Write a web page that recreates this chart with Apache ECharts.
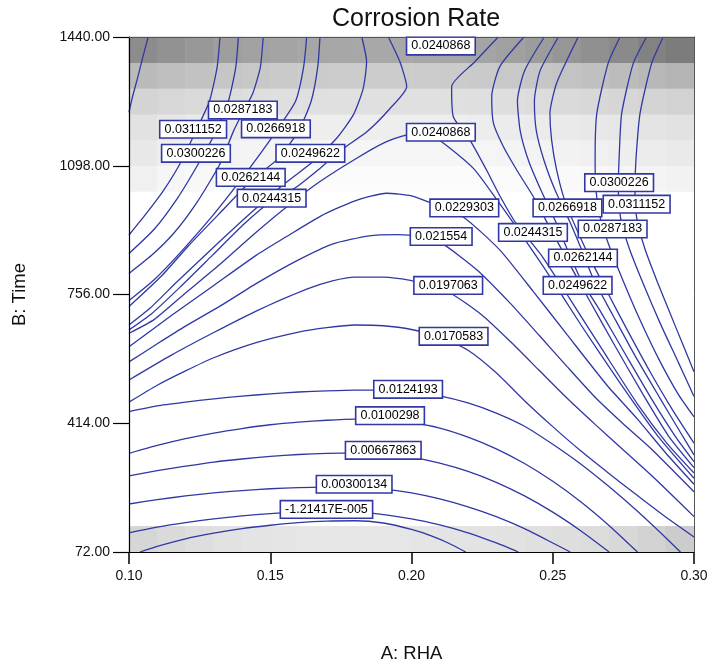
<!DOCTYPE html>
<html><head><meta charset="utf-8">
<script src="https://cdn.jsdelivr.net/npm/echarts@6/dist/echarts.min.js"></script>
<style>html,body{margin:0;padding:0;background:#fff}#c{width:714px;height:666px}</style>
</head><body><div id="c"></div>
<script>
// ---------- axes ----------
const rhaTicks = [0.10, 0.15, 0.20, 0.25, 0.30];
const timeTicks = [72, 414, 756, 1098, 1440];

// ---------- background shading (20 x 20 design grid, gray level 0-255) ----------
const cellIndex = [0,1,2,3,4,5,6,7,8,9,10,11,12,13,14,15,16,17,18,19];
const shadeRow0  = [214,218,222,226,228,229,230,230,230,230,229,228,227,226,224,222,220,216,210,204];
const shadeRow14 = [240,246,248,250,250,251,251,251,251,251,251,251,251,250,250,249,248,246,244,242];
const shadeRow15 = [232,238,241,243,244,245,245,245,245,245,245,245,245,244,243,242,240,238,236,234];
const shadeRow16 = [226,230,233,235,236,237,238,238,238,238,238,238,237,236,235,234,232,230,228,226];
const shadeRow17 = [212,215,218,220,222,223,224,224,224,224,224,224,223,222,220,218,216,214,212,210];
const shadeRow18 = [186,190,194,198,200,202,203,204,204,204,204,203,202,200,198,195,192,188,184,180];
const shadeRow19 = [140,146,152,158,162,164,166,167,168,168,167,166,164,160,156,150,144,138,130,124];

// ---------- contour lines [RHA, Time] ----------
const lineLow = [[0.1039,72],[0.110,87],[0.120,107],[0.130,122],[0.140,134],[0.150,143],[0.160,150],[0.170,154],[0.180,155],[0.190,149],[0.200,132],[0.207,115],[0.213,96],[0.2192,72]];
const lineM0000 = [[0.10,123],[0.11,138],[0.12,150],[0.13,160],[0.14,168],[0.15,174],[0.16,178],[0.172,180],[0.185,176],[0.20,160],[0.21,144],[0.22,123],[0.23,96],[0.2378,72]];
const line0030 = [[0.10,199.5],[0.11,211],[0.12,221],[0.13,229],[0.14,235],[0.15,240],[0.16,243],[0.175,245],[0.19,239],[0.20,229],[0.21,213],[0.22,192],[0.23,166],[0.24,134],[0.25,96],[0.2562,72]];
const line0067 = [[0.10,274],[0.11,288],[0.12,300],[0.13,311],[0.14,319],[0.15,326],[0.16,331],[0.17,334],[0.18,335],[0.19,333],[0.20,324],[0.21,308],[0.22,286],[0.23,257],[0.24,221],[0.25,178],[0.26,128],[0.27,72]];
const line0100 = [[0.10,334],[0.11,355],[0.12,373],[0.13,388],[0.14,400],[0.15,410],[0.16,417],[0.17,422],[0.18,425],[0.19,424],[0.20,416],[0.21,401],[0.22,377],[0.23,346],[0.24,307],[0.25,260],[0.26,205],[0.27,142],[0.28,72]];
const line0124 = [[0.10,445],[0.11,460],[0.12,470],[0.13,479],[0.14,486],[0.15,492],[0.16,497],[0.17,500],[0.18,502],[0.19,502],[0.20,498],[0.21,487],[0.22,468],[0.23,441],[0.24,406],[0.25,358],[0.26,305],[0.27,245],[0.28,180],[0.29,110],[0.2952,72]];
const line0171 = [[0.10,470],[0.11,515],[0.12,553],[0.13,588],[0.145,628],[0.16,656],[0.17,668],[0.18,675],[0.19,673],[0.20,663],[0.21,643],[0.22,608],[0.23,548],[0.24,474],[0.25,405],[0.26,340],[0.27,280],[0.28,222],[0.29,165],[0.30,112]];
const line0197 = [[0.10,529],[0.115,595],[0.13,655],[0.145,712],[0.1629,770],[0.172,792],[0.18,802],[0.19,802],[0.20,793],[0.2136,760],[0.225,701],[0.235,631],[0.245,556],[0.255,481],[0.265,411],[0.275,343],[0.285,275],[0.30,166]];
const line0216 = [[0.10,577],[0.11,625],[0.12,672],[0.1322,725],[0.145,785],[0.16,848],[0.172,890],[0.185,912],[0.195,915],[0.203,910],[0.2105,893],[0.2232,821],[0.2349,733],[0.2455,645],[0.255,565],[0.265,483],[0.275,412],[0.285,345],[0.30,232]];
const line0229 = [[0.10,617],[0.115,700],[0.13,780],[0.145,860],[0.1558,910],[0.168,965],[0.18,1005],[0.1912,1025],[0.20,1018],[0.2066,1000],[0.2183,962],[0.2313,874],[0.243,765],[0.255,650],[0.2692,515],[0.28,425],[0.29,335],[0.30,252]];
const line0241Low = [[0.10,653],[0.109,690],[0.120,760],[0.132,835],[0.144,915],[0.156,990],[0.1676,1056],[0.1806,1118],[0.1906,1160],[0.1983,1180],[0.2050,1188],[0.2101,1165],[0.2219,1091],[0.2300,1010],[0.238,925],[0.248,815],[0.260,675],[0.273,530],[0.287,382],[0.30,268]];
const line0241Top = [[0.2307,1440],[0.2225,1375],[0.2142,1308],[0.2148,1228],[0.2207,1166],[0.2266,1086],[0.2315,1015],[0.2370,945],[0.2460,860],[0.2560,745],[0.2675,610],[0.2800,465],[0.2905,360],[0.30,282]];
// left family
const leftTop = [[0.1068,1440],[0.1050,1390],[0.1030,1330],[0.1012,1280],[0.10,1240]];
const left0311 = [[0.1322,1440],[0.1312,1360],[0.1285,1270],[0.1240,1195],[0.1178,1100],[0.1120,1030],[0.1060,970],[0.10,914]];
const left0300 = [[0.1387,1440],[0.1378,1360],[0.1352,1270],[0.1305,1185],[0.1243,1100],[0.1170,1010],[0.1090,930],[0.10,865]];
const left0287 = [[0.1475,1440],[0.1465,1360],[0.1438,1290],[0.1403,1240],[0.1370,1190],[0.1320,1100],[0.1240,1000],[0.1160,920],[0.1080,860],[0.10,812]];
const left0267 = [[0.1629,1440],[0.1618,1360],[0.1590,1270],[0.1530,1200],[0.1465,1130],[0.1385,1050],[0.1290,960],[0.1180,866],[0.1090,796],[0.10,740]];
const left0262 = [[0.1676,1440],[0.1668,1360],[0.1645,1270],[0.1600,1190],[0.1525,1115],[0.1435,1060],[0.1325,975],[0.1210,885],[0.1115,805],[0.10,724]];
const left0250 = [[0.1824,1440],[0.1841,1374],[0.1829,1303],[0.1794,1233],[0.1735,1171],[0.1652,1109],[0.1550,1050],[0.1420,965],[0.1290,875],[0.1170,790],[0.1075,720],[0.10,675]];
const left0244 = [[0.1918,1440],[0.1959,1374],[0.1983,1308],[0.1924,1250],[0.1842,1188],[0.1759,1144],[0.1676,1091],[0.1590,1040],[0.1505,1005],[0.1410,945],[0.1295,860],[0.1180,775],[0.1080,705],[0.10,662]];
// right family
const right0244 = [[0.2398,1440],[0.2313,1362],[0.2284,1282],[0.2290,1211],[0.2325,1149],[0.2373,1086],[0.2432,1015],[0.2485,940],[0.2550,850],[0.2630,740],[0.2720,620],[0.2820,490],[0.2910,380],[0.30,296]];
const right0250 = [[0.2470,1440],[0.2400,1350],[0.2375,1270],[0.2385,1190],[0.2415,1110],[0.2460,1030],[0.2510,950],[0.2555,870],[0.2600,795],[0.2670,710],[0.2755,600],[0.2855,472],[0.2935,378],[0.30,312]];
const right0262 = [[0.2520,1440],[0.2455,1350],[0.2435,1270],[0.2442,1190],[0.2470,1110],[0.2510,1030],[0.2560,950],[0.2605,870],[0.2645,795],[0.2710,705],[0.2790,595],[0.2880,480],[0.2950,392],[0.30,330]];
const right0267 = [[0.2590,1440],[0.2514,1318],[0.2490,1237],[0.2496,1166],[0.2514,1086],[0.2545,1000],[0.2590,920],[0.2640,840],[0.2695,760],[0.2765,660],[0.2845,550],[0.2925,448],[0.30,361]];
const right0287 = [[0.2738,1440],[0.2696,1370],[0.2656,1237],[0.2650,1120],[0.2652,1039],[0.2668,960],[0.2695,895],[0.2745,800],[0.2805,695],[0.2875,585],[0.2945,490],[0.30,431]];
const right0300 = [[0.2832,1440],[0.2785,1370],[0.2744,1237],[0.2735,1120],[0.2732,1039],[0.2740,960],[0.2770,880],[0.2820,785],[0.2880,680],[0.2945,575],[0.30,485]];
const right0311 = [[0.2891,1440],[0.2850,1370],[0.2809,1237],[0.2795,1120],[0.2791,1039],[0.2797,960],[0.2825,880],[0.2870,790],[0.2935,670],[0.30,551]];

// ---------- contour labels [RHA, Time, text] ----------
const contourLabels = [
  [0.2104,1416,'0.0240868'],[0.2104,1187,'0.0240868'],
  [0.1403,1246,'0.0287183'],[0.1227,1195,'0.0311152'],[0.1520,1196,'0.0266918'],
  [0.1237,1131,'0.0300226'],[0.1642,1131,'0.0249622'],[0.1431,1067,'0.0262144'],
  [0.1505,1012,'0.0244315'],
  [0.2187,986,'0.0229303'],[0.2105,910,'0.021554'],[0.2130,780,'0.0197063'],
  [0.2149,645,'0.0170583'],[0.1988,504,'0.0124193'],[0.1924,434,'0.0100298'],
  [0.1900,342,'0.00667863'],[0.1797,252,'0.00300134'],[0.1699,185,'-1.21417E-005'],
  [0.2735,1053,'0.0300226'],[0.2797,996,'0.0311152'],[0.2712,930,'0.0287183'],
  [0.2552,986,'0.0266918'],[0.2430,921,'0.0244315'],[0.2607,853,'0.0262144'],
  [0.2588,780,'0.0249622']
];

// ---------- build ----------
const shadeRows = [[0,shadeRow0],[14,shadeRow14],[15,shadeRow15],[16,shadeRow16],[17,shadeRow17],[18,shadeRow18],[19,shadeRow19]];
const heatData = [];
shadeRows.forEach(([r, row]) => row.forEach((g, c) => heatData.push([c, r, g])));

const allLines = [lineLow,lineM0000,line0030,line0067,line0100,line0124,line0171,line0197,line0216,line0229,line0241Low,line0241Top,
  leftTop,left0311,left0300,left0287,left0267,left0262,left0250,left0244,
  right0244,right0250,right0262,right0267,right0287,right0300,right0311];

const LINE = '#3038a4';
const FONT = 'Liberation Sans, Arial, Helvetica, sans-serif';

const series = [{
  type: 'heatmap', xAxisIndex: 1, yAxisIndex: 1, data: heatData, silent: true,
  itemStyle: { borderWidth: 0 }, emphasis: { disabled: true }, z: 1
}];
allLines.forEach(pts => series.push({
  type: 'line', xAxisIndex: 0, yAxisIndex: 0, data: pts, symbol: 'none', showSymbol: false,
  smooth: 0.2, silent: true, lineStyle: { color: LINE, width: 1.3, opacity: 1 }, z: 3
}));
series.push({
  type: 'scatter', xAxisIndex: 0, yAxisIndex: 0, symbolSize: 1, silent: true, z: 6,
  itemStyle: { color: 'rgba(255,255,255,0)', opacity: 1 },
  data: contourLabels.map(d => ({ value: [d[0], d[1]], name: d[2] })),
  label: {
    show: true, position: 'inside', formatter: p => p.name, opacity: 1,
    backgroundColor: '#ffffff', borderColor: LINE, borderWidth: 1.6,
    padding: [2, 4, 1, 4], fontSize: 12.5, fontFamily: FONT, color: '#000'
  },
  labelLayout: { hideOverlap: false }
});

const chart = echarts.init(document.getElementById('c'), null, { renderer: 'canvas' });
chart.setOption({
  animation: false,
  backgroundColor: '#fff',
  title: { text: 'Corrosion Rate', left: 411, top: 2, textAlign: 'center',
    textStyle: { fontSize: 25, fontWeight: 'normal', color: '#111', fontFamily: FONT } },
  grid: { left: 129, right: 20, top: 37, bottom: 114, containLabel: false, outerBoundsMode: 'none' },
  visualMap: { show: false, type: 'continuous', seriesIndex: 0, min: 0, max: 255, dimension: 2,
    inRange: { color: ['#000000', '#ffffff'] } },
  xAxis: [{
    type: 'value', min: 0.1, max: 0.3, position: 'bottom', z: 10,
    name: 'A: RHA', nameLocation: 'middle', nameGap: 92,
    nameTextStyle: { fontSize: 18.5, color: '#111', fontFamily: FONT },
    axisLine: { show: true, onZero: false, lineStyle: { color: '#000', width: 1.2 } },
    axisTick: { show: true, customValues: rhaTicks, length: 12, lineStyle: { color: '#000', width: 1.5 } },
    axisLabel: { customValues: rhaTicks, formatter: v => v.toFixed(2), margin: 17, fontSize: 14, color: '#111', fontFamily: FONT },
    splitLine: { show: false }
  }, {
    type: 'category', data: cellIndex, position: 'top', boundaryGap: true, z: 10,
    axisLine: { show: true, onZero: false, lineStyle: { color: '#555', width: 1 } },
    axisTick: { show: false }, axisLabel: { show: false }, splitLine: { show: false }
  }],
  yAxis: [{
    type: 'value', min: 72, max: 1440, position: 'left', z: 10,
    name: 'B: Time', nameLocation: 'middle', nameGap: 100, nameRotate: 90,
    nameTextStyle: { fontSize: 18.5, color: '#111', fontFamily: FONT },
    axisLine: { show: true, onZero: false, lineStyle: { color: '#000', width: 1.2 } },
    axisTick: { show: true, customValues: timeTicks, length: 16, lineStyle: { color: '#000', width: 1.2 } },
    axisLabel: { customValues: timeTicks, formatter: v => v.toFixed(2), margin: 19, fontSize: 14, color: '#111', fontFamily: FONT },
    splitLine: { show: false }
  }, {
    type: 'category', data: cellIndex, position: 'right', boundaryGap: true, z: 10,
    axisLine: { show: true, onZero: false, lineStyle: { color: '#555', width: 1 } },
    axisTick: { show: false }, axisLabel: { show: false }, splitLine: { show: false }
  }],
  series: series
});
</script>
</body></html>
